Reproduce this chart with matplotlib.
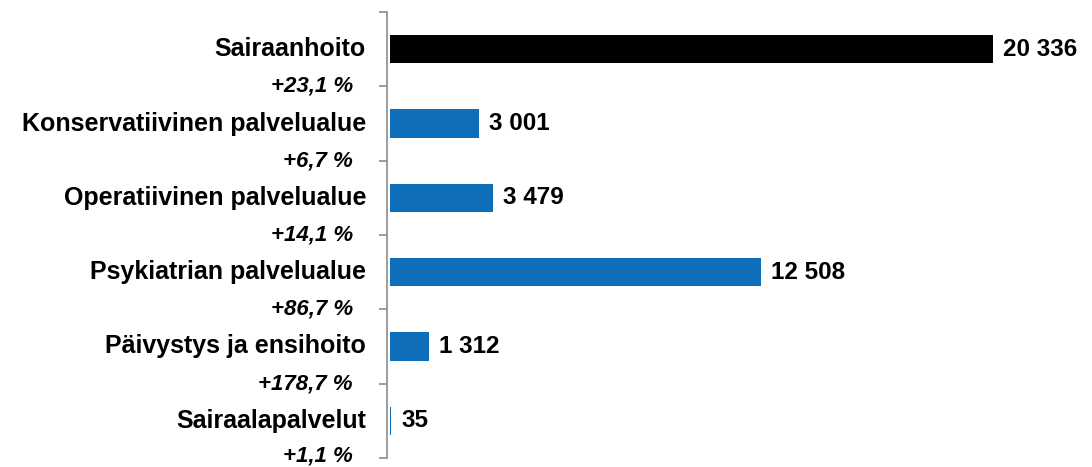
import matplotlib
matplotlib.use("Agg")
import matplotlib.pyplot as plt
from matplotlib.ticker import FixedLocator

categories = ["Sairaanhoito", "Konservatiivinen palvelualue", "Operatiivinen palvelualue",
              "Psykiatrian palvelualue", "Päivystys ja ensihoito", "Sairaalapalvelut"]
values = [20336, 3001, 3479, 12508, 1312, 35]
value_labels = ["20 336", "3 001", "3 479", "12 508", "1 312", "35"]
changes = ["+23,1 %", "+6,7 %", "+14,1 %", "+86,7 %", "+178,7 %", "+1,1 %"]
colors = ["#000000"] + ["#0F6EB8"] * 5

plt.rcParams['font.family'] = ['Liberation Sans', 'DejaVu Sans']

px = 20336 / 603.0  # data units per pixel

fig = plt.figure(figsize=(10.92, 4.67), dpi=100)
ax = fig.add_axes([387/1092, 1-458/467, (1090-387)/1092, (458-12)/467])

n = len(categories)
y = list(range(n))
ax.barh(y, values, height=0.38, color=colors, left=0)
ax.set_ylim(n - 0.5, -0.5)
ax.set_xlim(-3 * px, 700 * px)

for yi, v, lab in zip(y, values, value_labels):
    ax.text(v + 10 * px, yi, lab, va='center', ha='left', fontsize=17.5, fontweight='bold')

for yi, c, ch in zip(y, categories, changes):
    ax.text(-24 * px, yi, c, va='center', ha='right', fontsize=18, fontweight='bold')
    off = 0.47 if yi == n - 1 else 0.5
    ax.text(-37 * px, yi + off, ch, va='center', ha='right', fontsize=16,
            fontweight='bold', fontstyle='italic')

for s in ['top', 'right', 'bottom']:
    ax.spines[s].set_visible(False)
ax.spines['left'].set_color('#8c8c8c')
ax.spines['left'].set_linewidth(1.2)
ax.set_xticks([])
ax.yaxis.set_major_locator(FixedLocator([i - 0.5 for i in range(n + 1)]))
ax.set_yticklabels([])
ax.tick_params(axis='y', length=6, color='#8c8c8c', width=1.2)

fig.savefig("out.png", dpi=100)
